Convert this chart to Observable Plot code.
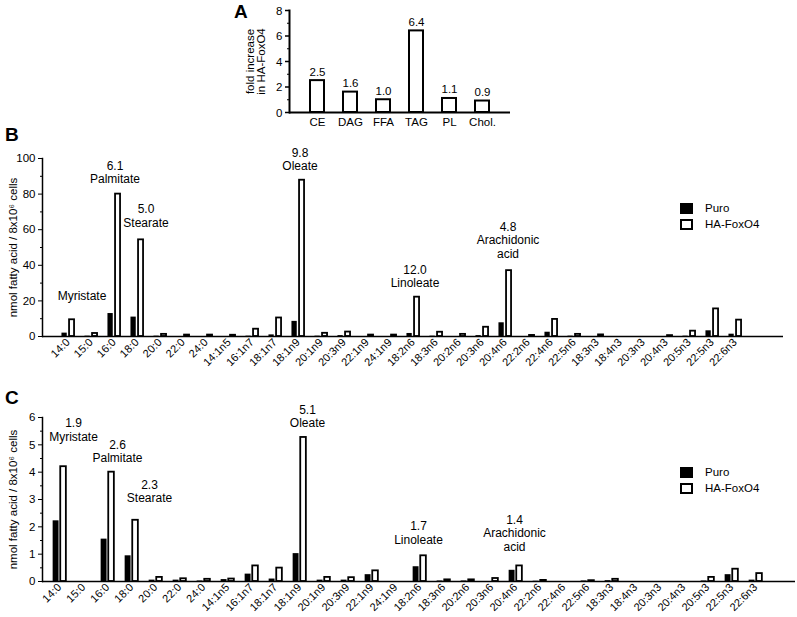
<!DOCTYPE html>
<html><head><meta charset="utf-8">
<script src="https://cdn.jsdelivr.net/npm/d3@7"></script>
<script src="https://cdn.jsdelivr.net/npm/@observablehq/plot@0.6"></script>
<style>
body{margin:0;background:#fff;font-family:"Liberation Sans",Arial,sans-serif;color:#000}
#root{position:relative;width:797px;height:617px;overflow:hidden}
.panel{position:absolute;left:0}
.letter{position:absolute;font-weight:bold;font-size:19px;line-height:1}
.legend{position:absolute;font-size:11.5px}
.legend .row{display:flex;align-items:center;height:16px}
.sw{width:13px;height:11px;margin-right:12px;box-sizing:border-box;border:2px solid #000}
</style></head><body><div id="root"></div>
<script>
// ---------- data ----------
const lipidClasses = ["CE","DAG","FFA","TAG","PL","Chol."];
const foldIncrease = [2.5,1.6,1.0,6.4,1.1,0.9];

const fattyAcids = ["14:0","15:0","16:0","18:0","20:0","22:0","24:0","14:1n5","16:1n7","18:1n7","18:1n9","20:1n9","20:3n9","22:1n9","24:1n9","18:2n6","18:3n6","20:2n6","20:3n6","20:4n6","22:2n6","22:4n6","22:5n6","18:3n3","18:4n3","20:3n3","20:4n3","20:5n3","22:5n3","22:6n3"];

// Panel B: nmol fatty acid / 8x10^6 cells
const puroB = [1.9,0.2,12.9,10.9,0.2,0,0,0,0.2,0.9,8.5,0.2,0.5,0,0,1.7,0.2,0,0.5,7.7,0,2.4,0.2,0,0,0,0,0.2,3.2,1.3];
const foxB  = [9.4,1.7,80,54.3,1.2,0.8,0.8,0.7,4.1,10.4,87.8,1.8,2.5,0.8,0.8,22.1,2.4,1.2,5.2,37,0.6,9.6,1.2,0.9,0,0,0.5,3.0,15.5,9.2];
const noteAcids = ["14:0","16:0","18:0","18:1n9","18:2n6","20:4n6"];
const noteNames = ["Myristate","Palmitate","Stearate","Oleate","Linoleate","Arachidonic\nacid"];
const ratioB = [null,"6.1","5.0","9.8","12.0","4.8"];

// Panel C
const puroC = [2.22,0,1.55,0.94,0.05,0.05,0.02,0.07,0.27,0.09,1.02,0.05,0.05,0.25,0,0.54,0.02,0.02,0,0.41,0.01,0,0.02,0.03,0,0,0,0.02,0.25,0.05];
const foxC  = [4.2,0,4.0,2.24,0.15,0.1,0.08,0.09,0.57,0.49,5.27,0.15,0.14,0.39,0,0.94,0.06,0.06,0.11,0.57,0.04,0,0.03,0.08,0,0,0,0.15,0.45,0.29];
const ratioC = ["1.9","2.6","2.3","5.1","1.7","1.4"];

const FONT = '"Liberation Sans", Arial, Helvetica, sans-serif';
const root = document.getElementById("root");

function place(el, top){ el.classList.add("panel"); el.style.top = top + "px"; root.appendChild(el); }
function letter(t, x, y){ const d=document.createElement("div"); d.className="letter"; d.textContent=t; d.style.left=x+"px"; d.style.top=y+"px"; root.appendChild(d); }
function legend(x, y){
  const d=document.createElement("div"); d.className="legend"; d.style.left=x+"px"; d.style.top=y+"px";
  d.innerHTML='<div class="row"><div class="sw" style="background:#000"></div>Puro</div><div class="row"><div class="sw" style="background:#fff"></div>HA-FoxO4</div>';
  root.appendChild(d);
}

// ---------- Panel A ----------
const dataA = lipidClasses.map((c,i)=>({c, v: foldIncrease[i]}));
const plotA = Plot.plot({
  width: 797, height: 135, marginLeft: 289, marginRight: 287, marginTop: 10, marginBottom: 23,
  style: {fontFamily: FONT, fontSize: "11.5px", color: "#000", background: "transparent"},
  x: {domain: lipidClasses, padding: 0.58},
  y: {domain: [0, 8]},
  marks: [
    Plot.barY(dataA, {x: "c", y: "v", fill: "white", stroke: "black", strokeWidth: 2}),
    Plot.text(dataA, {x: "c", y: "v", text: d => d.v.toFixed(1), dy: -5, lineAnchor: "bottom", fontSize: 11.5, fill: "black"}),
    Plot.axisY({ticks: [0,2,4,6,8], tickSize: 4, tickPadding: 3, strokeWidth: 1.5, fill: "black", label: "fold increase\nin HA-FoxO4", labelAnchor: "center", labelArrow: "none", labelOffset: 44, lineHeight: 1.15}),
    Plot.axisY({ticks: [1,3,5,7], tickSize: 2, tickFormat: () => "", label: null}),
    Plot.axisX({tickSize: 0, tickPadding: 5, label: null, fontSize: 11.5, fill: "black"}),
    Plot.frame({anchor: "left", strokeWidth: 2}),
    Plot.ruleY([0], {strokeWidth: 2})
  ]
});
place(plotA, 0);

// ---------- Panels B and C ----------
// nudges: [dx, extra lift] in px for each annotation label (placement only)
function fattyPanel({puro, fox, ratios, nudges, height, marginTop, marginBottom, marginRight, yDomain, major, minor}) {
  const blank = " ";
  const domain = [...fattyAcids, blank];
  const width = 797, marginLeft = 42;
  const bw = (width - marginLeft - marginRight) / domain.length;
  const data = fattyAcids.map((a,i)=>({a, puro: puro[i], fox: fox[i]}));
  const noteMarks = noteAcids.map((a, i) => {
    const label = ratios[i] ? ratios[i] + "\n" + noteNames[i] : noteNames[i];
    const d = [{a, label, v: fox[fattyAcids.indexOf(a)]}];
    return Plot.text(d, {x: "a", y: "v", text: "label", lineAnchor: "bottom",
      dx: nudges[i][0], dy: -10 - nudges[i][1], fontSize: 12, lineHeight: 1.12, fill: "black"});
  });
  return Plot.plot({
    width, height, marginLeft, marginRight, marginTop, marginBottom,
    style: {fontFamily: FONT, fontSize: "11px", color: "#000", background: "transparent"},
    x: {domain, padding: 0},
    y: {domain: yDomain},
    marks: [
      Plot.barY(data.filter(d => d.puro > 0), {x: "a", y: "puro", fill: "black", insetLeft: bw/2 - 6.5, insetRight: bw/2 + 0.3}),
      Plot.barY(data.filter(d => d.fox > 0), {x: "a", y: "fox", fill: "white", stroke: "black", strokeWidth: 1.8, insetLeft: bw/2 + 1.1, insetRight: bw/2 - 7}),
      ...noteMarks,
      Plot.axisY({ticks: major, tickSize: 4, tickPadding: 3, fontSize: 11.5, fill: "black", tickFormat: d => String(d), label: "nmol fatty acid / 8x10\u2076 cells", labelAnchor: "center", labelArrow: "none", labelOffset: 34}),
      Plot.axisY({ticks: minor, tickSize: 2, tickFormat: () => "", label: null}),
      Plot.axisX({tickSize: 0, tickPadding: 4, tickRotate: -45, label: null, fill: "black", fontSize: 11, tickFormat: d => d === blank ? "" : d}),
      Plot.frame({anchor: "left", strokeWidth: 1.5}),
      Plot.ruleY([0], {strokeWidth: 1.5})
    ]
  });
}

const plotB = fattyPanel({puro: puroB, fox: foxB, ratios: ratioB,
  nudges: [[14,10],[1,1],[9,3],[2,0],[2,0],[3,3]],
  height: 230, marginTop: 18, marginBottom: 34, marginRight: 14,
  yDomain: [0, 100], major: [0,20,40,60,80,100], minor: [10,30,50,70,90]});
place(plotB, 140);

const plotC = fattyPanel({puro: puroC, fox: foxC, ratios: ratioC,
  nudges: [[14,16],[10,0],[18,8],[8,0],[-1,2],[-1,5]],
  height: 247, marginTop: 47, marginBottom: 36, marginRight: 2,
  yDomain: [0, 6], major: [0,1,2,3,4,5,6], minor: [0.5,1.5,2.5,3.5,4.5,5.5]});
place(plotC, 370);

letter("A", 234, 2);
letter("B", 5, 125);
letter("C", 5, 388);
legend(680, 200);
legend(680, 464);
</script></body></html>
